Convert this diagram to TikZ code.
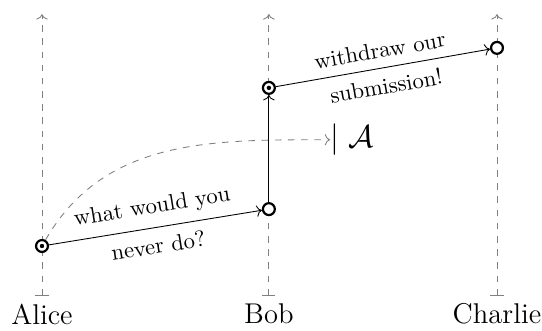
\documentclass[tikz,border=0pt]{standalone}
\usetikzlibrary{arrows.meta,positioning}
\begin{document}
\begin{tikzpicture}[
 life/.style={gray,dashed,{Bar[width=6pt]}->},
 recv/.style={circle,draw,line width=1pt,fill=white,inner sep=0pt,minimum size=0.19cm},
 who/.style={below,font=\fontsize{13}{15}\selectfont}]
\useasboundingbox (-0.672,-0.544) rectangle (8.0,4.736);
% lifelines
\coordinate (ab) at (0,0);    \coordinate (at) at (0,4.51);
\coordinate (bb) at (3.63,0); \coordinate (bt) at (3.63,4.51);
\coordinate (cb) at (7.28,0); \coordinate (ct) at (7.28,4.51);
\draw[life] (ab) -- (at);
\draw[life] (bb) -- (bt);
\draw[life] (cb) -- (ct);
\node[who] (alice) at (ab) {Alice};
\node[who] (bob) at (bb) {Bob};
\node[who] (charlie) at (cb) {Charlie};
% events
\node[recv] (a1) at (0,0.8) {};
\node[recv] (b1) at (3.63,1.39) {};
\node[recv] (b2) at (3.63,3.33) {};
\node[recv] (c1) at (7.28,3.97) {};
\fill (a1.center) circle (1pt) (b2.center) circle (1pt);
\coordinate (k) at (4.61,2.5);
\node[anchor=west,inner sep=0pt,font=\Large] (know) at (k) {$\mid\mathcal{A}$};
\draw[gray,dashed,->] (a1) to[out=60,in=180] (k);
\draw[->] (a1) -- (b1) node[midway,sloped,above=1pt,font=\fontsize{10.3}{12}\selectfont] {what would you}
 node[midway,sloped,below=1pt,font=\fontsize{10.3}{12}\selectfont] {never do?};
\draw[->] (b1) -- (b2);
\draw[->] (b2) -- (c1) node[midway,sloped,above=1pt,font=\fontsize{10.3}{12}\selectfont] {withdraw our}
 node[midway,sloped,below=1pt,font=\fontsize{10.3}{12}\selectfont] {submission!};
\end{tikzpicture}
\end{document}
